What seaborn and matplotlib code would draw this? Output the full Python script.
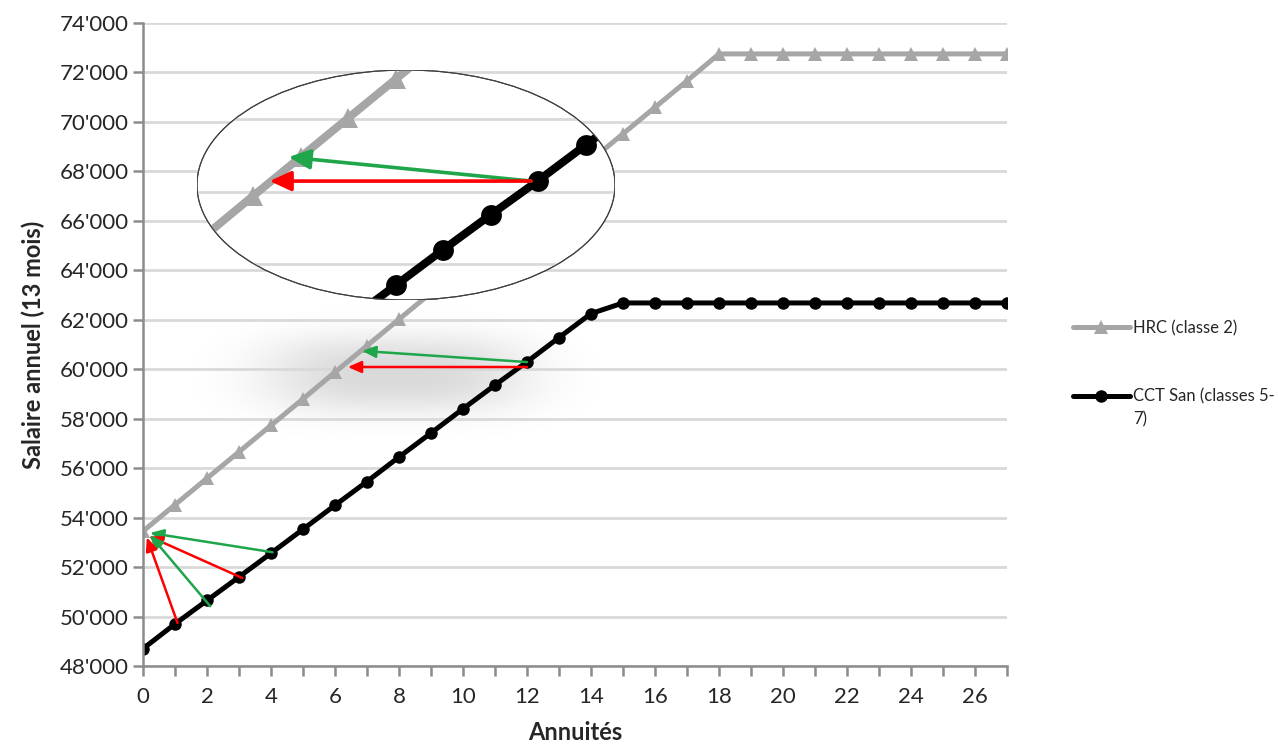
import seaborn as sns
import pandas as pd
import numpy as np
import matplotlib.pyplot as plt
from matplotlib.patches import Ellipse
from matplotlib.ticker import FuncFormatter, MultipleLocator

# data
annuites = list(range(28))
hrc = [53450, 54520, 55590, 56660, 57730, 58800, 59880, 60950, 62020, 63090,
       64160, 65230, 66300, 67380, 68450, 69520, 70590, 71660, 72750, 72750,
       72750, 72750, 72750, 72750, 72750, 72750, 72750, 72750]
cct = [48700, 49700, 50650, 51600, 52560, 53530, 54500, 55460, 56450, 57420,
       58400, 59360, 60300, 61280, 62250, 62680, 62680, 62680, 62680, 62680,
       62680, 62680, 62680, 62680, 62680, 62680, 62680, 62680]
label_hrc = "HRC (classe 2)"
label_cct = "CCT San (classes 5-"
label_cct_wrap = "7)"

# arrows (tail, head, colour) in data units
arrows = [
    ((12.0, 60290), (6.85, 60740), "#1fa54a"),
    ((12.0, 60090), (6.40, 60090), "#ff0000"),
    ((4.05, 52600), (0.22, 53380), "#1fa54a"),
    ((3.10, 51560), (0.18, 53250), "#ff0000"),
    ((2.10, 50420), (0.22, 53300), "#1fa54a"),
    ((1.08, 49740), (0.12, 53200), "#ff0000"),
]
inset_arrows = [
    ((11.85, 60290), (6.75, 60950), "#1fa54a"),
    ((11.85, 60290), (6.35, 60290), "#ff0000"),
]

df = pd.DataFrame({"x": annuites, "hrc": hrc, "cct": cct})

sns.set_style("white")
plt.rcParams["font.family"] = ["Lato", "DejaVu Sans"]

fig = plt.figure(figsize=(12.78, 7.49), dpi=100)
ax = fig.add_axes([143 / 1278, 1 - 666 / 749, 864 / 1278, 643 / 749])

GRAY = "#a6a6a6"

def draw_series(a, lw, ms_tri, ms_dot, legend=True):
    sns.lineplot(data=df, x="x", y="hrc", ax=a, color=GRAY, lw=lw, marker="^",
                 markersize=ms_tri, markeredgewidth=0, label=label_hrc if legend else None)
    sns.lineplot(data=df, x="x", y="cct", ax=a, color="black", lw=lw, marker="o",
                 markersize=ms_dot, markeredgewidth=0, label=label_cct if legend else None)

# soft shadow behind the zoom area (decoration)
gx, gy = np.meshgrid(np.linspace(-1, 1, 200), np.linspace(-1, 1, 100))
glow = np.exp(-((np.abs(gx) / 0.6) ** 3 + (np.abs(gy) / 0.45) ** 2.5))
shade = np.zeros((100, 200, 4))
shade[..., 3] = 0.15 * glow
ax.imshow(shade, extent=(1.0, 14.8, 56300, 63300), aspect="auto",
          interpolation="bilinear", zorder=0.5, origin="lower")

draw_series(ax, 3.6, 10, 9)

ax.set_xlim(0, 27)
ax.set_ylim(48000, 74000)
ax.yaxis.set_major_locator(MultipleLocator(2000))
ax.xaxis.set_major_locator(MultipleLocator(2))
ax.xaxis.set_minor_locator(MultipleLocator(1))
ax.yaxis.set_major_formatter(FuncFormatter(lambda v, p: f"{int(v):,}".replace(",", "'")))
ax.grid(axis="y", color="#d9d9d9", lw=2)
ax.set_axisbelow(True)
for s in ["top", "right"]:
    ax.spines[s].set_visible(False)
for s in ["left", "bottom"]:
    ax.spines[s].set_color("#8c8c8c")
    ax.spines[s].set_linewidth(1.8)
ax.tick_params(axis="both", which="both", direction="out", color="#8c8c8c",
               width=1.8, labelsize=16, labelcolor="#262626")
ax.tick_params(axis="both", which="major", length=7, left=True, bottom=True)
ax.tick_params(axis="x", which="minor", length=7, bottom=True)
ax.tick_params(axis="x", pad=8)
ax.set_xlabel("Annuités", fontsize=17, fontweight="bold", labelpad=10)
ax.set_ylabel("Salaire annuel (13 mois)", fontsize=17, fontweight="bold", labelpad=10)

for (x0, y0), (x1, y1), c in arrows:
    ax.annotate("", xy=(x1, y1), xytext=(x0, y0),
                arrowprops=dict(arrowstyle="-|>,head_length=0.8,head_width=0.35",
                                color=c, lw=1.8, shrinkA=0, shrinkB=0), zorder=5)

handles, labels = ax.get_legend_handles_labels()
ax.get_legend().remove()
fig.legend(handles, labels, loc="upper left", bbox_to_anchor=(1073 / 1278, 1 - 320 / 749),
           frameon=False, fontsize=12, handlelength=3.4, labelspacing=3.15,
           handletextpad=0.18, borderpad=0, borderaxespad=0)
fig.text(1133 / 1278, 1 - 419 / 749, label_cct_wrap, fontsize=12, va="center", ha="left")

# magnifier inset
axi = fig.add_axes([197 / 1278, 1 - 300 / 749, 418 / 1278, 230 / 749])
axi.set_xlim(4.82, 13.62)
axi.set_ylim(57018, 63346)
axi.axis("off")
ell = Ellipse((0.5, 0.5), 1, 1, transform=axi.transAxes, facecolor="white",
              edgecolor="#404040", lw=0.8, zorder=0)
axi.add_patch(ell)
for gyl in [58000, 60000, 62000]:
    axi.axhline(gyl, color="#d9d9d9", lw=2, zorder=0.5)
draw_series(axi, 5.8, 15, 15, legend=False)
for (x0, y0), (x1, y1), c in inset_arrows:
    axi.annotate("", xy=(x1, y1), xytext=(x0, y0),
                 arrowprops=dict(arrowstyle="-|>,head_length=1.3,head_width=0.6",
                                 color=c, lw=2.6, shrinkA=0, shrinkB=0), zorder=5)
for art in axi.lines + axi.texts:
    art.set_clip_path(ell)
border = Ellipse((0.5, 0.5), 1, 1, transform=axi.transAxes, facecolor="none",
                 edgecolor="#404040", lw=0.8, zorder=10)
axi.add_patch(border)

fig.savefig("out.png", dpi=100)
